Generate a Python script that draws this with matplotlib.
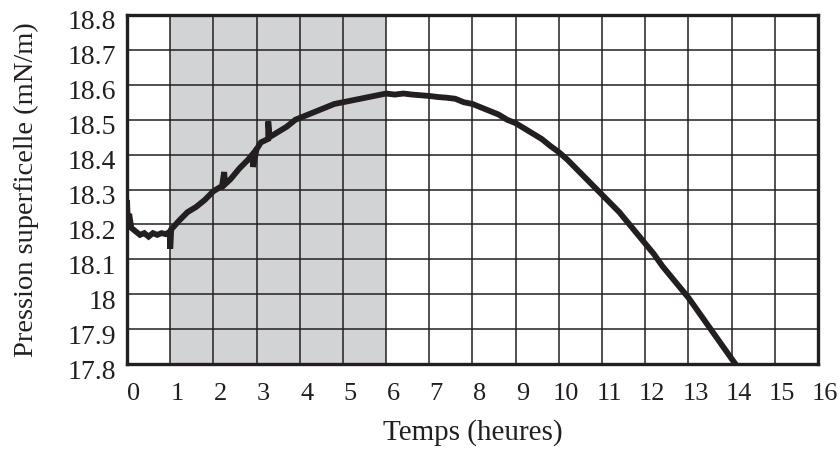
import matplotlib
matplotlib.use("Agg")
import matplotlib.pyplot as plt
from matplotlib.transforms import ScaledTranslation

# Data
temps = [0.0, 0.02, 0.05, 0.1, 0.2, 0.3, 0.4, 0.5, 0.6, 0.7, 0.8, 0.9, 1.0, 1.0, 1.02,
         1.2, 1.4, 1.6, 1.8, 2.0, 2.2, 2.25, 2.27, 2.4, 2.6, 2.8, 2.9, 2.92, 3.0, 3.1,
         3.27, 3.27, 3.3, 3.5, 3.7, 3.9, 4.0, 4.2, 4.4, 4.6, 4.8, 5.0, 5.2, 5.4, 5.6,
         5.8, 6.0, 6.2, 6.4, 6.6, 6.8, 7.0, 7.2, 7.4, 7.6, 7.8, 8.0, 8.2, 8.4, 8.6,
         8.8, 9.0, 9.2, 9.4, 9.6, 9.8, 10.0, 10.2, 10.4, 10.6, 10.8, 11.0, 11.2, 11.4,
         11.6, 11.8, 12.0, 12.2, 12.4, 12.6, 12.8, 13.0, 13.2, 13.4, 13.6, 13.8, 14.0,
         14.1]
pression = [18.27, 18.20, 18.23, 18.19, 18.18, 18.17, 18.175, 18.165, 18.175, 18.17,
            18.175, 18.172, 18.18, 18.13, 18.185,
            18.21, 18.235, 18.25, 18.27, 18.295, 18.31, 18.35, 18.315, 18.33, 18.36,
            18.385, 18.40, 18.365, 18.415, 18.435,
            18.445, 18.495, 18.45, 18.465, 18.48, 18.50, 18.505, 18.515, 18.525, 18.535,
            18.545, 18.55, 18.555, 18.56, 18.565,
            18.57, 18.575, 18.572, 18.575, 18.572, 18.57, 18.568, 18.565, 18.563, 18.56,
            18.55, 18.545, 18.535, 18.525, 18.515,
            18.50, 18.49, 18.475, 18.46, 18.445, 18.425, 18.407, 18.385, 18.36, 18.335,
            18.31, 18.285, 18.26, 18.235,
            18.205, 18.175, 18.145, 18.115, 18.08, 18.05, 18.02, 17.99, 17.955, 17.92,
            17.885, 17.85, 17.815, 17.798]

x_ticks = list(range(0, 17))
y_ticks = [17.8, 17.9, 18.0, 18.1, 18.2, 18.3, 18.4, 18.5, 18.6, 18.7, 18.8]
y_tick_labels = ["17.8", "17.9", "18", "18.1", "18.2", "18.3", "18.4", "18.5",
                 "18.6", "18.7", "18.8"]
zone_debut, zone_fin = 1, 6

plt.rcParams['font.family'] = ['Liberation Serif', 'DejaVu Serif']

fig = plt.figure(figsize=(8.4, 4.49), dpi=100)
ax = fig.add_axes([0.1512, 0.1893, 0.8226, 0.7773])

ax.axvspan(zone_debut, zone_fin, color='#d1d3d4', zorder=0, lw=0)
ax.plot(temps, pression, color='#231f20', lw=4.2, solid_capstyle='butt',
        solid_joinstyle='miter', zorder=3)

ax.set_xlim(0, 16)
ax.set_ylim(17.8, 18.8)
ax.set_xticks(x_ticks)
ax.set_xticklabels([str(t) for t in x_ticks])
ax.set_yticks(y_ticks)
ax.set_yticklabels(y_tick_labels)
ax.grid(True, color='#231f20', lw=1.1, zorder=1)
ax.set_axisbelow(True)
ax.tick_params(length=0, colors='#231f20')
ax.tick_params(axis='y', pad=8, labelsize=20)
ax.tick_params(axis='x', pad=14, labelsize=19)
for s in ax.spines.values():
    s.set_linewidth(2.4)
    s.set_color('#231f20')
    s.set_zorder(4)

dx = ScaledTranslation(7 / 100, 0, fig.dpi_scale_trans)
for lab in ax.get_xticklabels():
    lab.set_transform(lab.get_transform() + dx)
dy = ScaledTranslation(0, -5 / 100, fig.dpi_scale_trans)
for lab in ax.get_yticklabels():
    lab.set_transform(lab.get_transform() + dy)

ax.set_xlabel("Temps (heures)", fontsize=21, color='#231f20')
ax.xaxis.set_label_coords(0.5, -0.158)
ax.set_ylabel("Pression superficelle (mN/m)", fontsize=20.5, color='#231f20')
ax.yaxis.set_label_coords(-0.128, 0.5)

fig.savefig("out.png", dpi=100)
